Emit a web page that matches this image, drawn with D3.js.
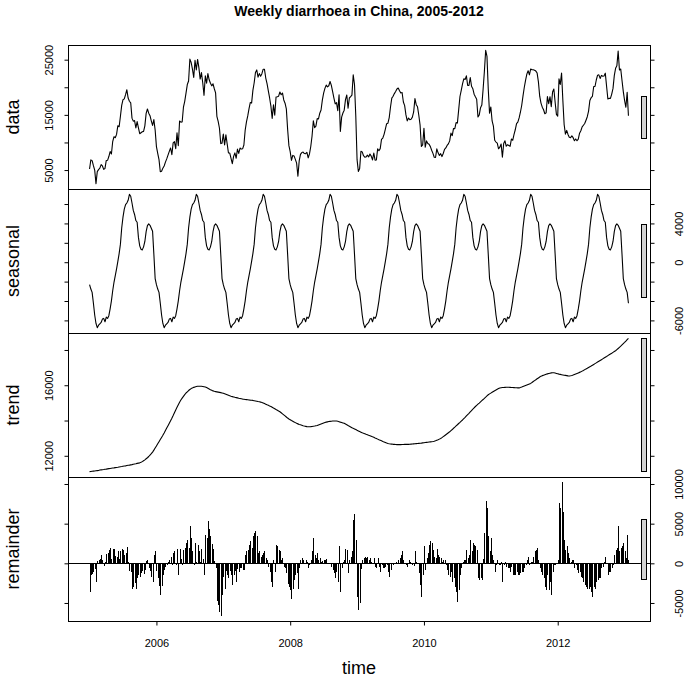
<!DOCTYPE html>
<html><head><meta charset="utf-8">
<script src="https://cdn.jsdelivr.net/npm/d3@7"></script>
<style>
body{margin:0;background:#fff}
svg{display:block}
text{font-family:"Liberation Sans",Arial,Helvetica,sans-serif;fill:#000}
</style>
</head><body>
<svg id="c" width="685" height="680"></svg>
<script>
// ---------------- data ----------------
const title = "Weekly diarrhoea in China, 2005-2012";
const startYear = 2005, freq = 52;
const panelNames = ["data", "seasonal", "trend", "remainder"];
const xTicks = [2006, 2008, 2010, 2012];
const dataTicks = [5000, 10000, 15000, 20000, 25000];
const dataLabels = [5000, 15000, 25000];
const seasonalTicks = [-6000, -4000, -2000, 0, 2000, 4000, 6000];
const seasonalLabels = [-6000, 0, 4000];
const trendTicks = [12000, 14000, 16000, 18000];
const trendLabels = [12000, 16000];
const remainderTicks = [-5000, 0, 5000, 10000];
const remainderLabels = [-5000, 0, 5000, 10000];

// one year of the (periodic) seasonal component, week 1..52
const seasonalPattern = [-2314,-2766,-3114,-4228,-5446,-6316,-6750,-6490,-6351,-6212,
 -5864,-5794,-6142,-5655,-5794,-5516,-4820,-3984,-2940,-2070,
 -1374,-678,87,888,1862,3532,4646,5481,5934,6108,
 6386,7000,6804,6108,5342,4924,4298,4124,2558,1688,
 1340,1270,1584,2140,3150,3776,3950,3811,3498,3184,
 818,-1688];

// weekly trend component
const trend = [
 11100,11110,11120,11130,11140,11150,11160,11170,11190,11200,
 11210,11220,11235,11245,11260,11270,11280,11295,11305,11315,
 11330,11340,11350,11365,11380,11390,11405,11420,11430,11445,
 11460,11470,11485,11500,11520,11535,11550,11570,11585,11600,
 11630,11670,11720,11770,11830,11890,11960,12040,12120,12210,
 12320,12440,12560,12680,12800,12920,13040,13160,13290,13430,
 13570,13710,13850,13990,14130,14280,14440,14600,14750,14900,
 15040,15160,15270,15370,15470,15560,15630,15700,15760,15810,
 15850,15880,15905,15925,15940,15945,15945,15940,15930,15915,
 15900,15870,15830,15790,15750,15715,15680,15655,15640,15625,
 15610,15595,15580,15565,15550,15520,15490,15460,15430,15400,
 15375,15355,15335,15315,15300,15285,15265,15250,15235,15215,
 15205,15195,15185,15175,15165,15155,15150,15140,15125,15110,
 15095,15075,15060,15045,15025,14995,14960,14925,14890,14860,
 14825,14795,14755,14710,14670,14625,14585,14540,14500,14440,
 14380,14320,14260,14200,14140,14090,14045,14000,13960,13920,
 13880,13840,13810,13780,13755,13730,13705,13685,13670,13655,
 13650,13650,13655,13665,13675,13685,13700,13715,13745,13775,
 13805,13835,13865,13890,13910,13925,13940,13950,13960,13970,
 13975,13975,13970,13955,13935,13910,13890,13865,13840,13800,
 13760,13715,13675,13635,13595,13555,13520,13485,13445,13410,
 13375,13340,13305,13275,13250,13220,13195,13165,13140,13110,
 13075,13045,13010,12980,12945,12910,12880,12850,12815,12785,
 12755,12720,12695,12680,12670,12660,12650,12645,12640,12635,
 12635,12635,12635,12640,12640,12645,12645,12650,12650,12655,
 12660,12665,12675,12680,12690,12695,12705,12715,12720,12730,
 12740,12750,12760,12770,12780,12790,12800,12810,12825,12850,
 12880,12910,12945,12980,13030,13085,13140,13195,13250,13305,
 13360,13425,13490,13560,13625,13695,13760,13830,13895,13965,
 14030,14105,14180,14260,14335,14410,14490,14565,14640,14720,
 14795,14860,14925,14990,15060,15125,15190,15260,15325,15395,
 15460,15510,15555,15600,15645,15690,15730,15770,15810,15845,
 15860,15870,15875,15880,15885,15885,15885,15880,15875,15870,
 15865,15860,15855,15850,15850,15870,15895,15925,15955,15985,
 16015,16045,16075,16105,16155,16210,16260,16310,16365,16415,
 16465,16515,16545,16570,16595,16620,16645,16665,16685,16700,
 16710,16705,16690,16670,16650,16630,16615,16600,16585,16570,
 16560,16545,16530,16520,16535,16555,16580,16610,16640,16670,
 16700,16730,16760,16800,16840,16885,16925,16965,17010,17050,
 17090,17135,17180,17225,17270,17315,17360,17405,17450,17495,
 17540,17585,17630,17680,17725,17770,17815,17865,17910,17955,
 18020,18085,18150,18215,18285,18355,18425,18500,18580,18660];

// weekly remainder component
const remainder = [
 -3600,-1500,-1300,-1100,-700,-2300,300,400,500,1000,
 400,-300,200,1150,1300,1700,1900,600,1800,1800,
 900,800,1600,600,1500,1800,1700,1000,1300,2000,
 200,-1000,-1100,-3200,-3000,-2500,-3200,-1900,-1500,-1700,
 -1200,-1000,-1300,-900,300,400,-600,-1000,-1700,-2300,
 1000,1500,-1000,-1900,-2800,-4000,-2800,-1500,-800,-500,
 -200,200,400,800,-200,1300,1500,-200,1800,-1500,
 1800,600,-200,1700,1900,2500,3000,1900,4700,3200,
 1500,-200,2600,200,2300,1500,200,1800,600,-1500,
 3600,3200,5300,4300,3400,2400,1800,300,-600,-4700,
 -5300,-6200,-6600,-4000,-1700,-3200,-1000,-1500,-1900,-1000,
 -1500,-2700,-1500,-1000,-2300,-700,-1100,-600,-640,-850,
 -850,1000,1490,1700,2340,2770,1900,3400,3830,4040,
 3400,1280,1490,850,1060,1280,1490,640,430,-430,
 -1060,-2340,-2980,430,-1060,2340,2130,1700,1490,430,
 640,-430,-640,-1280,-2550,-2980,-3400,-4470,-3190,-2130,
 -1490,-1280,-3190,-640,430,640,430,100,430,210,
 -640,-210,430,1490,3190,1060,640,1280,430,640,
 210,300,430,430,550,50,-50,100,-430,-850,
 -1280,-1910,-1060,-2340,2130,-3620,-640,210,430,1830,
 1700,-1280,430,850,1490,5500,6170,3000,-4250,-5900,
 -5000,-700,430,640,850,640,850,430,640,210,
 -100,700,-430,-640,720,-430,-1060,-210,-640,-640,
 -430,-210,-1060,-1700,-900,-100,-210,100,210,50,
 430,640,1000,1490,400,-100,-210,-430,430,210,
 -50,-210,-300,1490,210,-50,-1280,-2770,-4250,-1490,
 2130,-850,640,1280,2340,2770,2550,1700,850,640,
 1830,1000,850,640,210,430,430,-210,-850,-1490,
 -1700,-1060,-2340,-1910,-2980,-3620,-4900,-3400,-1500,-640,
 200,425,425,1700,640,1000,2980,1490,2550,2340,
 2130,1700,-1900,-2130,-1900,-2130,500,3830,7870,7020,
 3400,1490,3190,1060,430,-1060,-210,430,-210,-210,
 210,-2340,-210,210,-430,-640,-640,-1060,-430,-1490,
 -1490,-1490,-1060,-1490,-1490,-1280,-1060,-1060,-640,-210,
 430,850,-210,210,210,850,1490,1700,1910,430,
 -640,-1060,-1490,-1910,-2980,-3400,-1490,-3400,-2340,-4040,
 -1060,-210,-210,100,430,7660,7020,10210,6500,3000,
 1700,2130,1280,640,210,430,430,-640,-210,-850,
 -1280,-1060,-1700,-1910,-2340,-2770,-2980,-3190,-3190,-2980,
 -3620,-4250,-2980,-3190,-2340,-2130,-1910,-1910,-640,-430,
 200,850,0,-1490,-1060,-1060,-640,-210,1060,1700,
 1910,4680,1490,1910,2130,2550,1490,640,3620,425];

// ---------------- derived series (STL identity: data = seasonal + trend + remainder) ----------------
const n = trend.length;
const time = d3.range(n).map(i => startYear + i / freq);
const seasonal = time.map((t, i) => seasonalPattern[i % freq]);
const observed = time.map((t, i) => seasonal[i] + trend[i] + remainder[i]);
const series = [observed, seasonal, trend, remainder];
const tickSets = [dataTicks, seasonalTicks, trendTicks, remainderTicks];
const labelSets = [dataLabels, seasonalLabels, trendLabels, remainderLabels];

// ---------------- layout ----------------
const plotL = 68, plotR = 650, top0 = 45, panelH = 144, tickLen = 4;
const svg = d3.select("#c");
const FONT = '"Liberation Sans", Arial, Helvetica, sans-serif';

const tPad = 0.04 * (time[n - 1] - time[0]);
const xDom = [time[0] - tPad, time[n - 1] + tPad];
const x = d3.scaleLinear().domain(xDom).range([plotL, plotR]);

const ranges = series.map(s => d3.extent(s));
const mx = d3.min(ranges, r => r[1] - r[0]);
const dx = (xDom[1] - xDom[0]) / 64;

svg.append("text").attr("x", (plotL + plotR) / 2).attr("y", 16)
  .attr("text-anchor", "middle").attr("font-size", 14).attr("font-weight", "bold")
  .text(title);

series.forEach((s, p) => {
  const top = top0 + p * panelH, bot = top + panelH;
  const r = ranges[p], pad = 0.04 * (r[1] - r[0]);
  const y = d3.scaleLinear().domain([r[0] - pad, r[1] + pad]).range([bot, top]);
  const g = svg.append("g");

  if (p === 3) {
    g.append("line").attr("x1", plotL).attr("x2", plotR)
      .attr("y1", Math.round(y(0)) + 0.5).attr("y2", Math.round(y(0)) + 0.5)
      .attr("stroke", "#000").attr("stroke-width", 1);
    g.selectAll("line.bar").data(s).join("line").attr("class", "bar")
      .attr("x1", (d, i) => Math.round(x(time[i])) + 0.5)
      .attr("x2", (d, i) => Math.round(x(time[i])) + 0.5)
      .attr("y1", y(0)).attr("y2", d => y(d))
      .attr("stroke", "#000").attr("stroke-width", 1)
      .attr("shape-rendering", "crispEdges");
  } else {
    const line = d3.line().x((d, i) => x(time[i])).y(d => y(d));
    g.append("path").attr("d", line(s)).attr("fill", "none")
      .attr("stroke", "#000").attr("stroke-width", 1.1).attr("stroke-linejoin", "round");
  }

  // range bar
  const mid = (r[0] + r[1]) / 2;
  g.append("rect")
    .attr("x", Math.round(x(xDom[1] - dx)) + 0.5)
    .attr("width", Math.round(x(xDom[1] - 0.4 * dx) - x(xDom[1] - dx)))
    .attr("y", Math.round(y(mid + mx / 2)) + 0.5)
    .attr("height", Math.round(y(mid - mx / 2) - y(mid + mx / 2)))
    .attr("fill", "#d3d3d3").attr("stroke", "#000").attr("stroke-width", 1);

  // box
  g.append("rect").attr("x", plotL + 0.5).attr("y", top + 0.5)
    .attr("width", plotR - plotL).attr("height", panelH)
    .attr("fill", "none").attr("stroke", "#000").attr("stroke-width", 1);

  const labelLeft = p % 2 === 0;
  const fmtL = d => (labelLeft && labelSets[p].includes(d)) ? String(d) : "";
  const fmtR = d => (!labelLeft && labelSets[p].includes(d)) ? String(d) : "";

  const aL = svg.append("g").attr("transform", `translate(${plotL + 0.5},0)`)
    .call(d3.axisLeft(y).tickValues(tickSets[p]).tickSize(tickLen).tickFormat(fmtL));
  const aR = svg.append("g").attr("transform", `translate(${plotR + 0.5},0)`)
    .call(d3.axisRight(y).tickValues(tickSets[p]).tickSize(tickLen).tickFormat(fmtR));
  [[aL, -16], [aR, 32]].forEach(([a, off]) => {
    a.select(".domain").remove();
    a.attr("font-family", FONT).attr("font-size", 11);
    a.selectAll(".tick line").attr("stroke", "#000");
    a.selectAll(".tick text").attr("x", 0).attr("y", 0).attr("dy", null)
      .attr("text-anchor", "middle").attr("fill", "#000")
      .attr("transform", `translate(${off},0) rotate(-90)`);
  });

  // panel name
  svg.append("text").attr("transform", `translate(19,${(top + bot) / 2}) rotate(-90)`)
    .attr("text-anchor", "middle").attr("font-size", 18).text(panelNames[p]);

  if (p === 3) {
    const aB = svg.append("g").attr("transform", `translate(0,${bot + 0.5})`)
      .call(d3.axisBottom(x).tickValues(xTicks).tickSize(tickLen).tickFormat(d3.format("d")));
    aB.select(".domain").remove();
    aB.attr("font-family", FONT).attr("font-size", 11);
    aB.selectAll(".tick line").attr("stroke", "#000");
    aB.selectAll(".tick text").attr("y", 25).attr("dy", null).attr("fill", "#000");
  }
});

svg.append("text").attr("x", (plotL + plotR) / 2).attr("y", 674)
  .attr("text-anchor", "middle").attr("font-size", 18).text("time");
</script>
</body></html>
